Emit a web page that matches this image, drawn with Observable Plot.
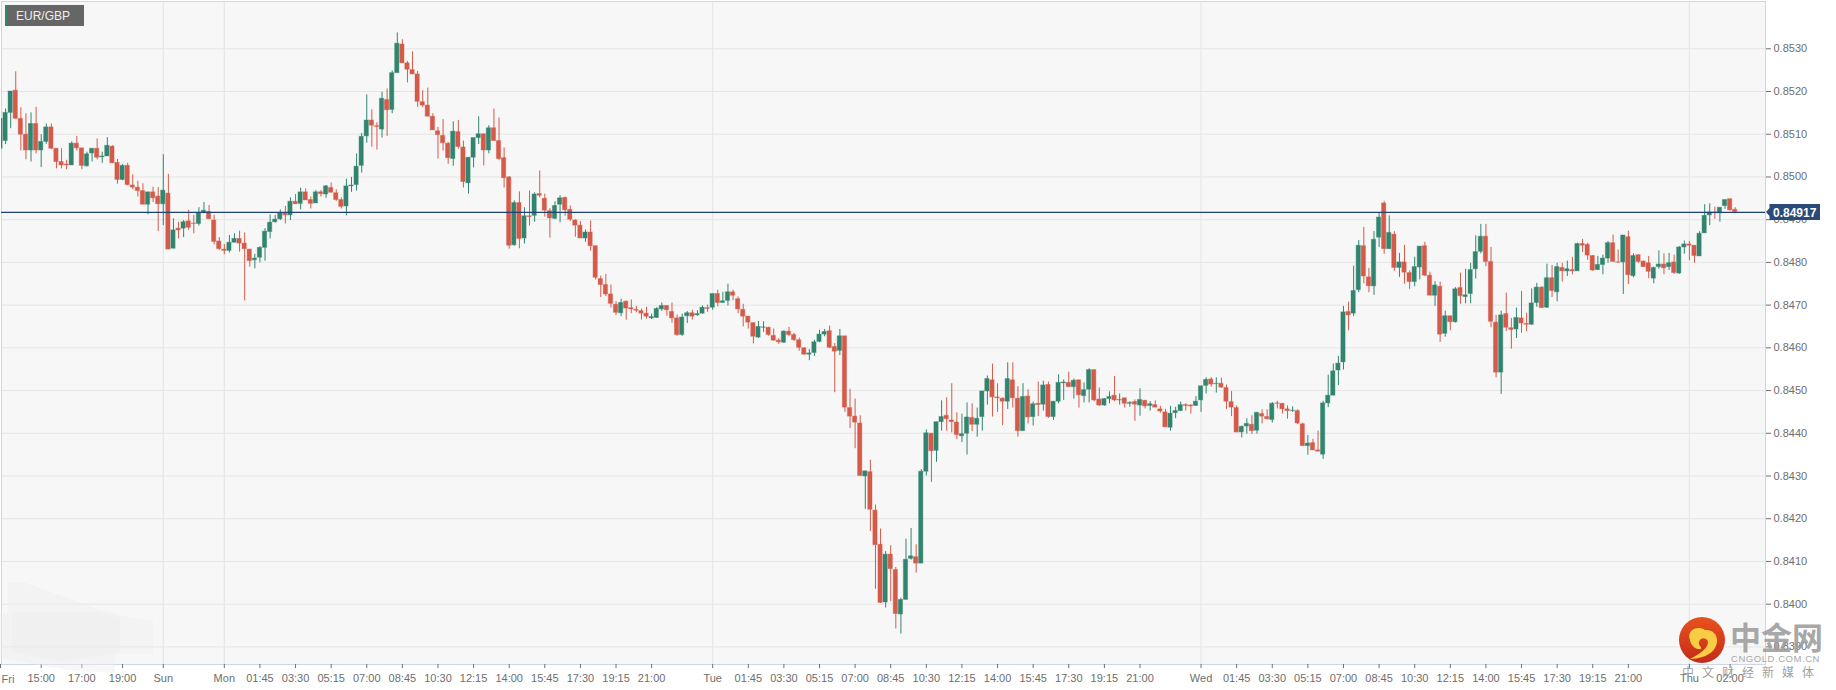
<!DOCTYPE html>
<html>
<head>
<meta charset="utf-8">
<style>
html,body{margin:0;padding:0;background:#fff;}
#wrap{position:relative;width:1836px;height:690px;overflow:hidden;}
#wrap>svg{display:block;}
#overlay{position:absolute;left:0;top:0;pointer-events:none;}
</style>
<script src="https://cdn.jsdelivr.net/npm/d3@7"></script>
<script src="https://cdn.jsdelivr.net/npm/@observablehq/plot@0.6"></script>
</head>
<body>
<div id="wrap"></div>
<script>
// EUR/GBP, 15-minute candles; prices in points (1e-5)
const direction = "GGGRRRGRGG"+"RRRRGRRGGR"+"GGRRGRRRRG"+"RRGRGRGRRG"+"GRRRRGGRRR"+"GGGGGGRGRG"+"RRGRGRRRGG"+"GGGRRGRGGR"+"RRRRRRRRRG"+"RRGGGRGRRR"
 +"RGRGRGRRRG"+"GRRRRGRRRR"+"RRGRRRRRGG"+"GRRRGGRGGR"+"GRGGRRRRRG"+"GRRRGRRRRG"+"GGGRRGRRRR"+"GRRRGRRGGG"+"RGGRGGRRRG"+"GRGGGRRRGR"
 +"RGRGRGRGGG"+"RGRGGRRGGR"+"GRGRGRGRRR"+"GGGRRGGGRG"+"RRRRGGRGRR"+"GRRRGRRGRR"+"GGGGGRGGRR"+"GGRGRGRRGG"+"RRGRGRGRGG"+"GGRRRGRRGR"
 +"RGGRGRGRGR"+"GRRRGGGRRG"+"RGRRRGGRGR"+"GGRRGGGRGGRR";

const bodyHigh = [
85136,85150,85200,85202,85136,85099,85124,85124,85082,85116,
85116,85066,85035,85029,85078,85078,85067,85053,85066,85066,
85048,85073,85071,85033,85026,85026,84980,84975,84967,84964,
84964,84954,84968,84961,84875,84879,84894,84896,84891,84916,
84921,84918,84898,84849,84830,84846,84855,84855,84844,84830,
84809,84834,84872,84893,84900,84915,84914,84942,84942,84964,
84964,84946,84964,84964,84978,84974,84962,84946,84978,84980,
85024,85094,85132,85132,85119,85183,85180,85243,85312,85310,
85266,85250,85240,85175,85167,85141,85107,85096,85078,85106,
85105,85069,85045,85091,85100,85100,85114,85114,85084,85044,
84999,84939,84939,84908,84908,84959,84960,84949,84920,84932,
84950,84951,84923,84898,84886,84870,84870,84838,84761,84747,
84725,84701,84705,84708,84693,84689,84686,84680,84672,84691,
84698,84698,84684,84669,84671,84681,84681,84679,84694,84693,
84726,84726,84709,84730,84730,84714,84689,84673,84658,84649,
84648,84647,84628,84617,84638,84638,84630,84618,84599,84587,
84613,84631,84637,84639,84602,84627,84627,84459,84439,84423,
84311,84309,84219,84139,84116,84116,84080,84010,84104,84112,
84110,84310,84400,84399,84426,84438,84441,84430,84425,84398,
84437,84436,84434,84498,84527,84524,84484,84481,84527,84524,
84481,84485,84486,84468,84469,84512,84513,84474,84518,84519,
84518,84523,84524,84501,84548,84548,84479,84480,84485,84488,
84478,84482,84471,84473,84478,84476,84468,84466,84456,84449,
84446,84452,84466,84466,84465,84474,84510,84525,84526,84516,
84516,84506,84473,84459,84415,84422,84420,84448,84445,84438,
84469,84470,84469,84456,84453,84452,84421,84376,84377,84360,
84470,84488,84545,84563,84683,84684,84733,84839,84838,84765,
84853,84905,84938,84869,84865,84800,84800,84775,84789,84837,
84838,84769,84746,84743,84674,84674,84737,84740,84723,84782,
84824,84860,84860,84801,84659,84676,84679,84646,84670,84669,
84656,84704,84741,84741,84763,84763,84789,84787,84784,84782,
84843,84843,84841,84815,84794,84809,84845,84845,84800,84863,
84859,84815,84817,84802,84798,84787,84795,84795,84798,84800,
84835,84842,84842,84839,84867,84909,84917,84917,84928,84946,84948,84923];

const bodyLow = [
85066,85084,85150,85136,85099,85062,85062,85062,85062,85082,
85066,85035,85027,85027,85027,85067,85026,85025,85055,85045,
85046,85048,85032,84993,84993,84981,84975,84967,84935,84935,
84950,84936,84936,84830,84832,84875,84879,84881,84890,84890,
84916,84901,84848,84831,84827,84827,84846,84844,84831,84803,
84805,84811,84834,84871,84894,84901,84910,84910,84936,84937,
84945,84937,84938,84960,84959,84963,84946,84930,84931,84978,
84981,85026,85095,85120,85117,85111,85156,85157,85243,85266,
85251,85240,85176,85167,85141,85109,85098,85079,85044,85042,
85070,84988,84985,85045,85091,85062,85062,85084,85042,84997,
84839,84840,84855,84856,84906,84909,84956,84921,84903,84902,
84935,84922,84900,84886,84856,84856,84838,84764,84747,84725,
84703,84682,84681,84692,84690,84687,84680,84673,84669,84670,
84690,84688,84669,84630,84630,84674,84673,84676,84680,84691,
84694,84705,84705,84710,84722,84690,84673,84659,84626,84624,
84647,84630,84617,84613,84612,84630,84618,84600,84584,84584,
84588,84614,84631,84600,84591,84593,84460,84439,84425,84300,
84299,84221,84138,84003,84004,84082,83977,83976,84010,84106,
84095,84095,84310,84358,84359,84426,84433,84426,84396,84393,
84399,84420,84420,84438,84498,84484,84482,84474,84474,84482,
84405,84405,84437,84438,84466,84467,84438,84438,84474,84517,
84508,84508,84489,84487,84502,84477,84465,84465,84480,84477,
84477,84469,84469,84467,84465,84463,84464,84460,84451,84414,
84413,84447,84452,84464,84463,84464,84477,84511,84514,84515,
84507,84474,84460,84402,84402,84416,84405,84406,84439,84433,
84431,84469,84456,84452,84452,84423,84370,84370,84360,84357,
84350,84470,84488,84547,84566,84676,84680,84735,84767,84744,
84744,84858,84831,84831,84787,84787,84776,84754,84754,84788,
84769,84722,84722,84631,84633,84660,84660,84721,84719,84726,
84784,84825,84801,84661,84542,84542,84647,84642,84643,84657,
84654,84654,84705,84693,84694,84733,84730,84779,84779,84779,
84779,84839,84816,84781,84782,84794,84809,84801,84799,84800,
84770,84768,84801,84789,84778,84762,84789,84786,84789,84775,
84774,84835,84839,84815,84814,84868,84910,84915,84915,84932,84922,84918];

const wickHigh = [
85140,85159,85200,85246,85162,85148,85150,85163,85099,85124,
85124,85066,85066,85039,85082,85095,85067,85058,85066,85089,
85058,85092,85073,85041,85029,85032,85005,84990,84984,84964,
84976,84975,85052,85006,84902,84894,84898,84922,84910,84928,
84940,84933,84910,84858,84842,84863,84867,84873,84869,84830,
84819,84837,84879,84911,84910,84923,84931,84951,84959,84974,
84972,84953,84968,84968,84980,84986,84970,84951,84995,84999,
85054,85102,85192,85157,85127,85198,85206,85248,85337,85321,
85270,85293,85247,85202,85208,85148,85116,85134,85081,85129,
85132,85084,85045,85091,85141,85100,85120,85159,85138,85068,
85001,84944,84965,84928,84967,84963,85014,84960,84926,84942,
84956,84953,84932,84900,84896,84876,84897,84838,84768,84772,
84747,84708,84714,84710,84712,84697,84691,84695,84679,84694,
84705,84698,84705,84677,84679,84685,84688,84687,84698,84700,
84726,84735,84730,84749,84735,84719,84702,84673,84658,84662,
84661,84648,84644,84622,84640,84648,84634,84623,84600,84596,
84618,84641,84643,84651,84610,84643,84627,84503,84480,84441,
84311,84337,84232,84176,84123,84137,84086,84014,84152,84177,
84139,84315,84408,84399,84426,84476,84483,84516,84448,84445,
84471,84469,84459,84498,84534,84562,84516,84483,84565,84565,
84509,84516,84502,84473,84520,84522,84520,84474,84537,84525,
84543,84527,84524,84518,84551,84548,84506,84481,84497,84533,
84492,84482,84474,84478,84504,84477,84474,84476,84463,84456,
84463,84461,84473,84469,84467,84486,84510,84530,84530,84530,
84529,84513,84498,84464,84417,84434,84441,84448,84455,84455,
84472,84475,84470,84464,84462,84455,84424,84395,84386,84405,
84475,84536,84562,84580,84697,84707,84791,84851,84882,84786,
84872,84917,84943,84909,84872,84821,84840,84780,84812,84837,
84847,84777,84755,84754,84686,84674,84741,84775,84784,84798,
84862,84889,84889,84835,84676,84686,84728,84669,84693,84732,
84681,84738,84751,84743,84796,84793,84798,84798,84803,84812,
84845,84854,84845,84816,84814,84817,84849,84864,84829,84863,
84873,84820,84817,84803,84814,84789,84827,84820,84821,84817,
84837,84850,84849,84839,84872,84935,84937,84929,84928,84946,84948,84928];

const wickLow = [
85060,85076,85113,85136,85061,85040,85035,85054,85022,85076,
85064,85019,85019,85017,85027,85061,85017,85023,85035,85040,
85032,85048,85031,84983,84991,84979,84970,84953,84935,84911,
84940,84872,84886,84830,84832,84855,84858,84875,84867,84885,
84914,84901,84841,84828,84818,84822,84846,84824,84710,84789,
84785,84799,84803,84855,84892,84898,84890,84898,84936,84923,
84945,84925,84938,84953,84950,84963,84943,84925,84909,84964,
84967,85009,85079,85070,85063,85091,85095,85148,85243,85266,
85220,85239,85163,85162,85141,85109,85042,85061,85030,85025,
85065,84974,84960,85021,85076,85026,85054,85084,85038,84974,
84831,84838,84832,84843,84885,84894,84951,84906,84857,84900,
84893,84908,84896,84859,84856,84847,84826,84759,84718,84720,
84693,84676,84673,84665,84680,84682,84665,84667,84666,84669,
84685,84674,84658,84627,84627,84657,84665,84674,84679,84683,
84688,84696,84705,84698,84710,84680,84649,84644,84609,84622,
84636,84627,84615,84608,84610,84626,84615,84592,84583,84570,
84580,84612,84626,84598,84495,84582,84449,84411,84364,84300,
84222,84170,84035,84002,83991,84006,83942,83930,84010,84103,
84073,84095,84300,84285,84332,84405,84405,84401,84385,84378,
84349,84404,84391,84405,84466,84438,84449,84418,84456,84459,
84391,84405,84422,84417,84439,84452,84435,84430,84469,84477,
84508,84480,84459,84471,84471,84474,84463,84463,84469,84474,
84466,84459,84461,84428,84440,84457,84452,84460,84447,84413,
84405,84434,84451,84452,84445,84463,84449,84492,84508,84494,
84505,84456,84439,84401,84389,84398,84397,84398,84422,84431,
84424,84457,84445,84433,84449,84420,84369,84349,84359,84357,
84339,84460,84488,84512,84548,84640,84673,84729,84750,84729,
84723,84835,84819,84831,84779,84765,84749,84737,84743,84759,
84767,84722,84697,84613,84625,84640,84658,84702,84703,84703,
84761,84820,84790,84647,84530,84491,84638,84597,84622,84634,
84638,84653,84695,84693,84692,84718,84708,84754,84767,84771,
84779,84823,84805,84779,84781,84771,84798,84801,84799,84725,
84748,84764,84798,84788,84762,84750,84784,84771,84781,84772,
84772,84819,84804,84798,84814,84868,84886,84901,84894,84924,84920,84914];

const priceTicks = [0.8390,0.8400,0.8410,0.8420,0.8430,0.8440,0.8450,0.8460,0.8470,0.8480,0.8490,0.8500,0.8510,0.8520,0.8530];
const lastPrice = 0.84917;
const dayBreaks = [32,44,140,236,332];
const tickIndexes = [0,8,16,24,32,44,51,58,65,72,79,86,93,100,107,114,121,128,140,147,154,161,168,175,182,189,196,203,210,217,224,236,243,250,257,264,271,278,285,292,299,306,313,320,332,340];
const tickLabels = ["Fri","15:00","17:00","19:00","Sun","Mon","01:45","03:30","05:15","07:00","08:45","10:30","12:15","14:00","15:45","17:30","19:15","21:00","Tue","01:45","03:30","05:15","07:00","08:45","10:30","12:15","14:00","15:45","17:30","19:15","21:00","Wed","01:45","03:30","05:15","07:00","08:45","10:30","12:15","14:00","15:45","17:30","19:15","21:00","Thu","02:00"];

const UP = "#31856f", DOWN = "#d45a49", AXIS = "#6e6e6e", FONT = "'Liberation Sans', Arial, sans-serif";
const candles = bodyHigh.map((t,i)=>({i, top:t/1e5, bottom:bodyLow[i]/1e5, high:wickHigh[i]/1e5, low:wickLow[i]/1e5, color:direction[i]==="G"?UP:DOWN}));
const labelOf = new Map(tickIndexes.map((t,k)=>[t,tickLabels[k]]));

const chart = Plot.plot({
  width:1836, height:690,
  marginLeft:1, marginRight:71, marginTop:1, marginBottom:26,
  style:{fontFamily:FONT, fontSize:"11px", color:AXIS, background:"#fff"},
  x:{type:"linear", domain:[0.197,346.96], label:null},
  y:{type:"linear", domain:[0.838588,0.854107], label:null},
  marks:[
    Plot.frame({fill:"#f7f7f7", stroke:"none"}),
    Plot.ruleY(priceTicks,{stroke:"#e5e5e5", strokeWidth:1}),
    Plot.ruleX(dayBreaks,{stroke:"#e6e6e6", strokeWidth:1.2}),
    Plot.frame({fill:"none", stroke:"#ced5e8"}),
    Plot.ruleX(candles,{x:"i", y1:"low", y2:"high", stroke:"color", strokeWidth:1, clip:true}),
    Plot.rect(candles,{x1:d=>d.i-0.42, x2:d=>d.i+0.42, y1:"bottom", y2:"top", fill:"color", stroke:"color", strokeOpacity:0.4, strokeWidth:1, clip:true}),
    Plot.ruleY([lastPrice],{stroke:"#1f4275", strokeWidth:1.2}),
    Plot.axisY({anchor:"right", ticks:priceTicks, tickFormat:d=>d.toFixed(4), tickSize:5, tickPadding:3, label:null}),
    Plot.axisX({anchor:"bottom", ticks:tickIndexes, tickFormat:d=>d===0?"":labelOf.get(d), tickSize:4, tickPadding:6, label:null}),
    Plot.text(["Fri"],{x:()=>0.197, frameAnchor:"bottom", dy:18, text:d=>d, textAnchor:"start", fill:AXIS}),
    // last-price tag and instrument tag
    (index,{y})=>{
      const g=d3.create("svg:g").attr("text-anchor","start");
      const py=Math.round(y(lastPrice));
      g.append("path").attr("d",`M1766 ${py} L1769.5 ${py-4} L1769.5 ${py-8} L1820 ${py-8} L1820 ${py+8} L1769.5 ${py+8} L1769.5 ${py+4} Z`).attr("fill","#2b4a78");
      g.append("text").attr("x",1773).attr("y",py+4.5).attr("text-anchor","start").attr("fill","#fff").attr("font-weight","bold").attr("font-size",12).text("0.84917");
      g.append("rect").attr("x",5).attr("y",5).attr("width",79).attr("height",21).attr("fill","#666");
      g.append("rect").attr("x",5).attr("y",5).attr("width",2).attr("height",21).attr("fill",UP);
      g.append("text").attr("x",16).attr("y",20).attr("text-anchor","start").attr("fill","#eee").attr("font-size",12).text("EUR/GBP");
      return g.node();
    }
  ]
});
document.getElementById("wrap").appendChild(chart);

// watermark and faint blot, laid over the chart
document.getElementById("wrap").insertAdjacentHTML("beforeend",`
<svg id="overlay" width="1836" height="690" xmlns="http://www.w3.org/2000/svg">
  <defs><linearGradient id="lg" x1="0" y1="0" x2="0" y2="1"><stop offset="0" stop-color="#e8521b"/><stop offset="1" stop-color="#c42a1c"/></linearGradient></defs>
  <polygon points="8,582 23,582 100,610 133,618 153,621 153,654 115,654 115,673 67,670 0,658 0,613 8,613" fill="#eeeeee" fill-opacity="0.45"/>
  <polygon points="12,612 100,612 120,618 120,652 60,662 12,652" fill="#eaeaea" fill-opacity="0.35"/>
  <circle cx="1702" cy="640" r="23" fill="url(#lg)"/>
  <path d="M1690 640 C1686 630 1698 625 1705 630 C1716 629 1720 640 1715 648 C1711 655 1700 659 1690 659 C1700 654 1708 648 1708 642 C1707 637 1700 637 1699 642 C1698 646 1702 646 1701 649 C1696 650 1691 646 1690 640 Z" fill="#f8cd45"/>
  <text x="1730" y="649" font-family="'Noto Sans CJK SC'" font-weight="700" font-size="31" fill="#9c9c9c" fill-opacity="0.9">中金网</text>
  <text x="1731" y="662" font-family="'Liberation Sans',Arial" font-size="9.5" letter-spacing="0.55" fill="#a8a8a8">CNGOLD.COM.CN</text>
  <text x="1682" y="677" font-family="'Noto Sans CJK SC'" font-size="12" letter-spacing="8" fill="#a0a0a0">中文财经新媒体</text>
</svg>`);
</script>
</body>
</html>
